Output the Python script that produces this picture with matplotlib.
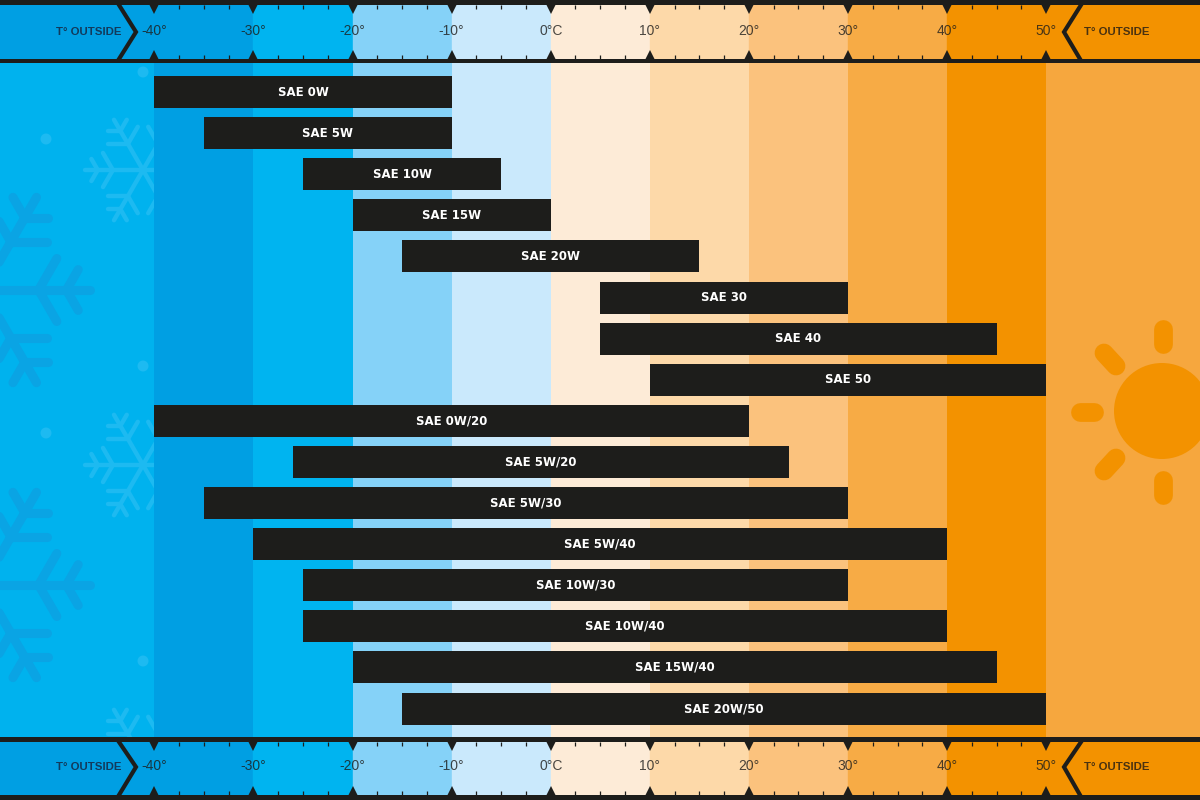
import numpy as np
import matplotlib
matplotlib.use("Agg")
import matplotlib.pyplot as plt
from matplotlib.patches import Circle, Rectangle

GRADES = ["SAE 0W", "SAE 5W", "SAE 10W", "SAE 15W", "SAE 20W", "SAE 30", "SAE 40", "SAE 50",
          "SAE 0W/20", "SAE 5W/20", "SAE 5W/30", "SAE 5W/40", "SAE 10W/30", "SAE 10W/40",
          "SAE 15W/40", "SAE 20W/50"]
LOW_TEMP = [-40, -35, -25, -20, -15, 5, 5, 10, -40, -26, -35, -30, -25, -25, -20, -15]
HIGH_TEMP = [-10, -10, -5, 0, 15, 30, 45, 50, 20, 24, 30, 40, 30, 40, 45, 50]

BAND_EDGES = [-40, -30, -20, -10, 0, 10, 20, 30, 40, 50]
BAND_COLORS = ["#009FE3", "#00B4F0", "#85D2F8", "#CAE9FC", "#FDEBD7",
               "#FDD9A9", "#FBC27D", "#F7AB45", "#F39200"]
TICK_TEMPS = [-40, -30, -20, -10, 0, 10, 20, 30, 40, 50]
TICK_LABELS = ["-40°", "-30°", "-20°", "-10°", "0°C", "10°", "20°", "30°", "40°", "50°"]

INK = "#1D1D1B"
COLD_OUT = "#00B2EE"
HOT_OUT = "#F6A73E"
PX_PER_DEG = 9.91
X0 = -40 - 154.3 / PX_PER_DEG
X1 = X0 + 1200 / PX_PER_DEG
ROW_TOP = 92
ROW_STEP = 41.1
LABEL_FONT = ["Liberation Sans", "DejaVu Sans"]


def snowflake(ax, cx, cy, r, color, lw, clip=None):
    # six arms, each with a pair of side branches
    c = np.array([cx, cy])
    for a in np.deg2rad(np.arange(0, 360, 60)):
        d = np.array([np.cos(a), np.sin(a)])
        art = [ax.plot(*zip(c, c + d * r), color=color, lw=lw, solid_capstyle="round")[0]]
        for frac, size in [(0.52, 0.34), (0.78, 0.22)]:
            base = c + d * r * frac
            for turn in (np.pi / 3, -np.pi / 3):
                b = np.array([np.cos(a + turn), np.sin(a + turn)])
                art.append(ax.plot(*zip(base, base + b * r * size), color=color, lw=lw,
                                   solid_capstyle="round")[0])
        if clip is not None:
            for line in art:
                line.set_clip_path(clip)


def header(ax, deco, top, bottom, mid):
    # outer panels, black rules, chevrons and scale for one strip
    ax.add_patch(Rectangle((X0, top), -40 - X0, bottom - top, color="#009FE3", zorder=2))
    ax.add_patch(Rectangle((50, top), X1 - 50, bottom - top, color="#F39200", zorder=2))
    for temp, col in zip(BAND_EDGES[:-1], BAND_COLORS):
        ax.add_patch(Rectangle((temp, top), 10, bottom - top, color=col, zorder=2))
    deco.plot([119, 136, 119], [top, mid, bottom], color=INK, lw=3.0, solid_joinstyle="miter")
    deco.plot([1081, 1064, 1080], [top, mid, bottom], color=INK, lw=3.0, solid_joinstyle="miter")
    ax.plot(TICK_TEMPS, [top + 3] * len(TICK_TEMPS), "v", color=INK, ms=8, mew=0, zorder=4)
    ax.plot(TICK_TEMPS, [bottom - 3] * len(TICK_TEMPS), "^", color=INK, ms=8, mew=0, zorder=4)
    minor = np.arange(-40, 50.1, 2.5)
    ax.vlines(minor, top, top + 4, color=INK, lw=0.9, zorder=4)
    ax.vlines(minor, bottom - 4, bottom, color=INK, lw=0.9, zorder=4)
    for temp, lab in zip(TICK_TEMPS, TICK_LABELS):
        ax.text(temp, mid - 1, lab, ha="center", va="center", fontsize=10, color=INK,
                alpha=0.8, family=LABEL_FONT, zorder=5)
    for x, col in [(89, "#123A5C"), (1117, "#4A3210")]:
        deco.text(x, mid, "T° OUTSIDE", ha="center", va="center", fontsize=8.2,
                  fontweight="bold", color=col, family=LABEL_FONT)


def main():
    fig = plt.figure(figsize=(12, 8), dpi=100)
    ax = fig.add_axes([0, 0, 1, 1])
    ax.set_xlim(X0, X1)
    ax.set_ylim(800, 0)
    ax.axis("off")

    # temperature bands
    ax.axvspan(X0, -40, color=COLD_OUT, lw=0, zorder=0)
    ax.axvspan(50, X1, color=HOT_OUT, lw=0, zorder=0)
    for temp, col in zip(BAND_EDGES[:-1], BAND_COLORS):
        ax.axvspan(temp, temp + 10, color=col, lw=0, zorder=0)

    # grade ranges
    rows = ROW_TOP + ROW_STEP * np.arange(len(GRADES))
    low = np.array(LOW_TEMP)
    high = np.array(HIGH_TEMP)
    ax.barh(rows, high - low, left=low, height=32, color=INK, zorder=3)
    for y, lo, hi, name in zip(rows, low, high, GRADES):
        ax.text((lo + hi) / 2, y, name, ha="center", va="center", color="white",
                fontsize=8.5, fontweight="bold", zorder=4)

    # pixel overlay for the pictures and chevrons
    deco = fig.add_axes([0, 0, 1, 1], zorder=2)
    deco.set_xlim(0, 1200)
    deco.set_ylim(800, 0)
    deco.axis("off")
    deco.patch.set_alpha(0)

    clip = Rectangle((0, 63), 154.3, 674, transform=deco.transData)
    for cy in (170, 465, 760):
        snowflake(deco, 143, cy, 58, "#1DBAF1", 3.2, clip)
    for cy in (290, 585):
        snowflake(deco, -17, cy, 107, "#0AA4E4", 6.5)
    for x, y in [(143, 72), (46, 139), (143, 366), (46, 433), (143, 661)]:
        deco.add_patch(Circle((x, y), 5.5, color="#1DBAF1", lw=0))

    deco.add_patch(Circle((1162, 411), 48, color="#F39200", lw=0))
    for x0, y0, x1, y1 in [(1163, 329, 1163, 344), (1104, 353, 1116, 366),
                           (1080, 412, 1094, 412), (1104, 471, 1116, 458),
                           (1163, 480, 1163, 495)]:
        deco.plot([x0, x1], [y0, y1], color="#F39200", lw=13.5, solid_capstyle="round")

    header(ax, deco, 5, 59, 32)
    header(ax, deco, 742, 795, 767)
    for y0, y1 in [(0, 5), (59, 63), (737, 742), (795, 800)]:
        ax.axhspan(y0, y1, color=INK, lw=0, zorder=4)

    fig.savefig("out.png", dpi=100)


if __name__ == "__main__":
    main()
